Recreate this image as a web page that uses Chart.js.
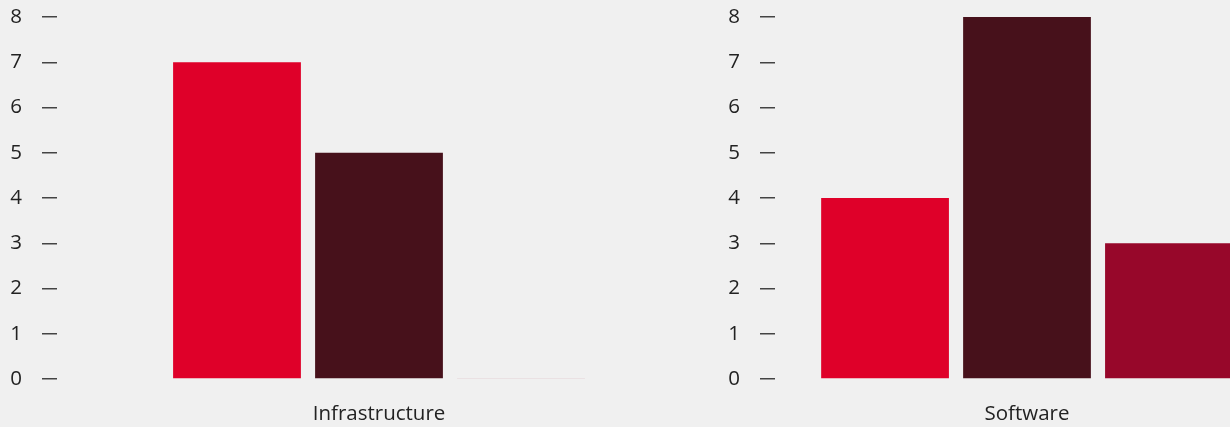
<!DOCTYPE html>
<html>
<head>
<meta charset="utf-8">
<script src="https://cdn.jsdelivr.net/npm/chart.js@4.4.1/dist/chart.umd.min.js"></script>
<style>
  html, body { margin: 0; padding: 0; background: #f0f0f0; overflow: hidden; }
  body { width: 1230px; height: 427px; position: relative; }
  .panel { position: absolute; top: 0; height: 427px; }
  #leftPanel { left: 0; width: 701px; }
  #rightPanel { left: 718px; width: 561px; }
</style>
</head>
<body>
<div class="panel" id="leftPanel"><canvas id="leftChart"></canvas></div>
<div class="panel" id="rightPanel"><canvas id="rightChart"></canvas></div>
<script>
// одна категория на панель, три серии
const categories = ["Infrastructure", "Software"];
const seriesOne = [7, 4];
const seriesTwo = [5, 8];
const seriesThree = [0, 3];
const yTicks = [0, 1, 2, 3, 4, 5, 6, 7, 8];

const colors = ["#df0029", "#47111b", "#97072a"];
const FONT = "'Open Sans', Lato, sans-serif";

function barColor(base) {
  // нулевой столбец рисуется бледной линией
  return ctx => (ctx.raw === 0 ? "rgba(151,7,42,0.25)" : base);
}

function drawPanel(canvasId, idx, catPct) {
  const ctx = document.getElementById(canvasId).getContext("2d");
  return new Chart(ctx, {
    type: "bar",
    data: {
      labels: [categories[idx]],
      datasets: [
        { label: "Series 1", data: [seriesOne[idx]], backgroundColor: barColor(colors[0]) },
        { label: "Series 2", data: [seriesTwo[idx]], backgroundColor: barColor(colors[1]) },
        { label: "Series 3", data: [seriesThree[idx]], backgroundColor: barColor(colors[2]) }
      ]
    },
    options: {
      responsive: true,
      maintainAspectRatio: false,
      animation: false,
      layout: { padding: { left: 8, top: 0, right: 0, bottom: 0 } },
      datasets: {
        bar: { categoryPercentage: catPct, barPercentage: 0.9, minBarLength: 1, borderWidth: 0 }
      },
      plugins: { legend: { display: false }, tooltip: { enabled: false } },
      scales: {
        x: {
          grid: { display: false, drawTicks: false },
          border: { display: false },
          ticks: { color: "#222", font: { family: FONT, size: 20.5 }, padding: 23 },
          afterFit: axis => { axis.height = 48; }
        },
        y: {
          min: 0,
          max: 8,
          afterBuildTicks: axis => { axis.ticks = yTicks.map(v => ({ value: v })); },
          grid: { drawOnChartArea: false, drawTicks: true, tickLength: 15, tickColor: "#444", lineWidth: 1.5 },
          border: { display: false },
          ticks: { color: "#222", font: { family: FONT, size: 20.5 }, padding: 20 },
          afterFit: axis => {
            axis.width = 49;
            axis.paddingTop = 17;
            axis.paddingBottom = 0;
          }
        }
      }
    }
  });
}

document.addEventListener("DOMContentLoaded", () => {
  drawPanel("leftChart", 0, 0.6615);
  drawPanel("rightChart", 1, 0.845);
});
</script>
</body>
</html>
